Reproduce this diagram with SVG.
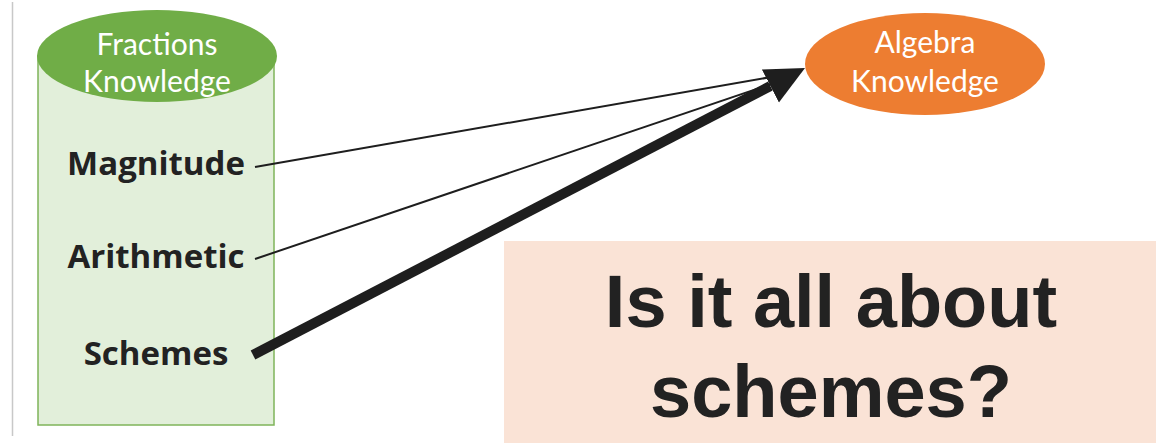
<svg xmlns="http://www.w3.org/2000/svg" width="1166" height="443" viewBox="0 0 1166 443">
<style>
.lbl{font-family:"Open Sans",Lato,"Liberation Sans",sans-serif;font-weight:bold;font-size:33px;fill:#222;text-anchor:middle}
.ell{font-family:Lato,"Open Sans","Liberation Sans",sans-serif;font-size:30px;fill:#fff;text-anchor:middle}
.big{font-family:"Liberation Sans",Arial,sans-serif;font-weight:bold;font-size:74px;fill:#222;text-anchor:middle}
.thin{stroke:#1e1e1e;stroke-width:2;fill:none}
</style>
<defs>
<marker id="ah" markerUnits="userSpaceOnUse" markerWidth="40" markerHeight="38" refX="0" refY="18.5" orient="auto">
<path d="M0,0 L39,18.5 L0,37 z" fill="#1e1e1e"/>
</marker>
</defs>
<rect width="1166" height="443" fill="#fff"/>
<line x1="12.5" y1="2" x2="12.5" y2="436" stroke="#c8c8c8" stroke-width="1.5"/>
<g id="fractions">
<rect x="38" y="56" width="236" height="369" fill="#e2efda" stroke="#7fb45a" stroke-width="1.5"/>
<ellipse cx="157" cy="56" rx="120" ry="46" fill="#70ad47"/>
<text class="ell" x="157" y="55">Fractions</text>
<text class="ell" x="157" y="92">Knowledge</text>
</g>
<g id="magnitude"><text class="lbl" x="156" y="175">Magnitude</text></g>
<g id="arithmetic"><text class="lbl" x="156" y="268">Arithmetic</text></g>
<g id="schemes"><text class="lbl" x="156" y="365">Schemes</text></g>
<g id="algebra">
<ellipse cx="925" cy="64" rx="120" ry="51" fill="#ed7d31"/>
<text class="ell" x="925" y="53">Algebra</text>
<text class="ell" x="925" y="92">Knowledge</text>
</g>
<g id="question">
<rect x="504" y="241" width="652" height="202" fill="#fae3d6"/>
<text class="big" x="831" y="327">Is it all about</text>
<text class="big" x="831" y="417">schemes?</text>
</g>
<g id="connectors">
<line class="thin" x1="255" y1="167" x2="800" y2="72"/>
<line class="thin" x1="255" y1="259" x2="795" y2="76"/>
<line x1="253" y1="355" x2="770.4" y2="86" stroke="#1e1e1e" stroke-width="10" marker-end="url(#ah)"/>
</g>
</svg>
